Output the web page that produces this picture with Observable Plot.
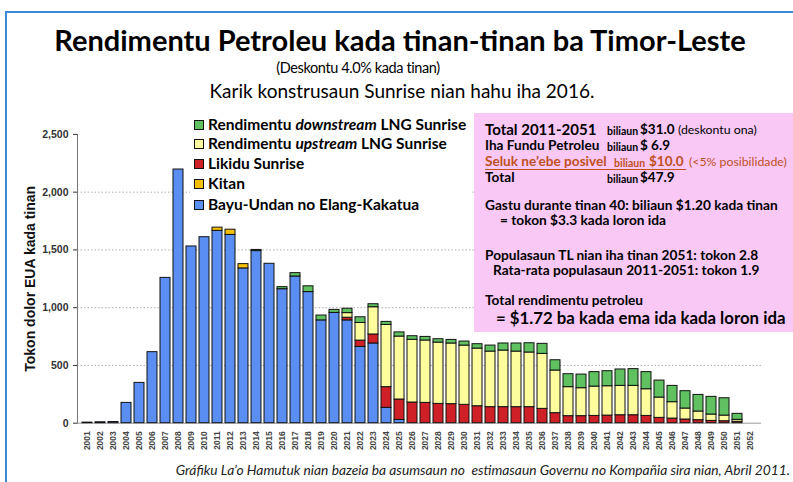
<!DOCTYPE html>
<html><head><meta charset="utf-8">
<script src="https://cdn.jsdelivr.net/npm/d3@7"></script>
<script src="https://cdn.jsdelivr.net/npm/@observablehq/plot@0.6"></script>
<style>
body{margin:0;background:#fff;}
#wrap{position:relative;width:793px;height:482px;overflow:hidden;font-family:Lato,sans-serif;color:#000;}
#frame{position:absolute;left:5px;top:11px;width:800px;height:500px;border:2px solid #3b88d8;box-sizing:border-box;}
.t{position:absolute;white-space:nowrap;line-height:1;}
#chart{position:absolute;left:0;top:100px;}
#legend{position:absolute;left:190px;top:114px;width:282px;height:101px;background:#fff;}
#box{position:absolute;left:474px;top:113px;width:330px;height:219px;background:#f9c8f5;}
.sw{position:absolute;width:8px;height:8px;border:1.5px solid #111;}
</style></head><body>
<div id="wrap">
  <div id="frame"></div>
  <div id="chart"></div>
  <div id="legend"></div>
  <div id="box"></div>
</div>
<script>
const years = [2001,2002,2003,2004,2005,2006,2007,2008,2009,2010,2011,2012,2013,2014,2015,2016,2017,2018,2019,2020,2021,2022,2023,2024,2025,2026,2027,2028,2029,2030,2031,2032,2033,2034,2035,2036,2037,2038,2039,2040,2041,2042,2043,2044,2045,2046,2047,2048,2049,2050,2051,2052];
const bayuUndan = [5,8,10,176,349,615,1258,2196,1530,1610,1665,1630,1340,1490,1380,1160,1270,1135,890,955,890,660,690,133,28,0,0,0,0,0,0,0,0,0,0,0,0,0,0,0,0,0,0,0,0,0,0,0,0,0,0,0];
const kitan = [0,0,0,0,0,0,0,0,0,0,28,45,37,0,0,0,0,0,0,0,0,0,0,0,0,0,0,0,0,0,0,0,0,0,0,0,0,0,0,0,0,0,0,0,0,0,0,0,0,0,0,0];
const likiduSunrise = [0,0,0,0,0,0,0,0,0,0,0,0,0,0,0,0,0,0,0,0,23,55,78,179,177,179,176,167,165,159,147,139,139,139,139,124,87,61,61,63,66,69,69,63,46,40,32,26,20,17,12,0];
const upstreamLNG = [0,0,0,0,0,0,0,0,0,0,0,0,0,0,0,0,0,0,0,0,40,153,236,539,545,543,540,531,525,513,499,481,490,481,473,476,369,251,242,254,254,254,254,231,176,142,95,75,55,49,17,0];
const downstreamLNG = [0,0,0,0,0,0,0,0,0,0,0,0,0,10,0,18,29,50,42,26,38,49,26,26,36,31,31,29,31,35,38,52,61,70,80,87,89,112,118,125,130,142,145,148,147,141,150,144,153,150,52,0];

const seriesNames = ["Bayu-Undan no Elang-Kakatua","Kitan","Likidu Sunrise","Rendimentu upstream LNG Sunrise","Rendimentu downstream LNG Sunrise"];
const seriesColors = ["#5b8ef2","#f5c000","#cf2027","#fdfd9e","#5fc160"];
const yTicks = [0,500,1000,1500,2000,2500];
const gridTicks = [500,1000,1500,2000];
const yLabel = "Tokon dolor EUA kada tinan";

const seriesValues = [bayuUndan,kitan,likiduSunrise,upstreamLNG,downstreamLNG];
const rows = [];
years.forEach((yr,i)=>seriesValues.forEach((arr,s)=>{ if(arr[i]>0) rows.push({year:yr, series:seriesNames[s], value:arr[i]}); }));

const chart = Plot.plot({
  width:793, height:355,
  marginTop:33.9, marginBottom:32.3, marginLeft:77, marginRight:32,
  style:{fontFamily:"'Liberation Sans',Arial,sans-serif", background:"transparent", overflow:"visible"},
  x:{type:"band", domain:years, paddingInner:0.22, paddingOuter:0.378, label:null},
  y:{domain:[0,2500], label:null},
  color:{domain:seriesNames, range:seriesColors},
  marks:[
    Plot.ruleY(gridTicks,{stroke:"#b0b0b0", strokeDasharray:"1.5,2"}),
    Plot.ruleY([0],{stroke:"#999"}),
    Plot.barY(rows,{x:"year", y:"value", fill:"series", stroke:"#111", strokeWidth:1, order:seriesNames}),
    Plot.frame({anchor:"left", stroke:"#777"}),
    Plot.axisY(yTicks,{tickFormat:d3.format(","), tickSize:4, tickPadding:5, fontWeight:"bold", fontSize:10.5, color:"#333", label:null}),
    Plot.axisX({tickFormat:d=>String(d), tickRotate:-90, tickSize:0, tickPadding:8, fontWeight:"bold", fontSize:8.5, color:"#444", label:null}),
    Plot.text([yLabel],{text:d=>d, frameAnchor:"left", dx:-47, rotate:-90, textAnchor:"middle", fontWeight:"bold", fontSize:14, fill:"#111"})
  ]
});
document.getElementById("chart").appendChild(chart);

const wrap = document.getElementById("wrap");
function txt(parent, html, x, base, size, o={}){
  const d = document.createElement("div");
  d.className = "t";
  d.innerHTML = html;
  d.style.fontSize = size+"px";
  d.style.top = (base - 0.887*size)+"px";
  if(o.center){ d.style.left = x+"px"; d.style.transform = "translateX(-50%)"; }
  else if(o.right){ d.style.right = x+"px"; }
  else d.style.left = x+"px";
  d.style.fontWeight = o.bold ? "bold" : "normal";
  if(o.italic) d.style.fontStyle = "italic";
  if(o.color) d.style.color = o.color;
  if(o.ls) d.style.letterSpacing = o.ls+"px";
  parent.appendChild(d);
  return d;
}
// titles
txt(wrap,"Rendimentu Petroleu kada tinan-tinan ba Timor-Leste",400,51,29,{center:true,bold:true});
txt(wrap,"(Deskontu 4.0% kada tinan)",358,74,14.5,{center:true,ls:-0.4});
txt(wrap,"Karik konstrusaun Sunrise nian hahu iha 2016.",402,98,19,{center:true});
txt(wrap,"Gráfiku La’o Hamutuk nian bazeia ba asumsaun no&nbsp; estimasaun Governu no Kompañia sira nian, Abril 2011.",3,475,13.8,{right:true,italic:true,color:"#222"});

// legend
const legend = document.getElementById("legend");
const legendOrder = [4,3,2,1,0];
const legendCenters = [11,30,50,70,91];
legendOrder.forEach((s,k)=>{
  const sw = document.createElement("div");
  sw.className="sw"; sw.style.background = seriesColors[s];
  sw.style.left = "4px"; sw.style.top = (legendCenters[k]-5.5)+"px";
  legend.appendChild(sw);
  const label = seriesNames[s].replace("downstream","<i>downstream</i>").replace("upstream","<i>upstream</i>");
  txt(legend,label,18,legendCenters[k]+5.5,15.5,{bold:true});
});

// pink box
const box = document.getElementById("box");
const L = 11;
const brown = "#c0501e";
const B = 133, D = 166;
txt(box,"Total 2011-2051",L,22,15,{bold:true});
txt(box,"biliaun",B,22,10.5,{bold:true});
txt(box,"$31.0",D,22,13.5,{bold:true});
txt(box,"(deskontu ona)",204,22,12.3,{});
txt(box,"Iha Fundu Petroleu",L,38,13.6,{bold:true});
txt(box,"biliaun",B,38,10.5,{bold:true});
txt(box,"$ 6.9",D,38,13.5,{bold:true});
txt(box,"Seluk ne’ebe posivel",L,54,13.6,{bold:true,color:brown});
txt(box,"biliaun",B+7,54,10.5,{bold:true,color:brown});
txt(box,"$10.0",D+9,54,13.5,{bold:true,color:brown});
txt(box,"(&lt;5% posibilidade)",215,54,12.3,{color:brown});
const ul = document.createElement("div");
ul.style.cssText = "position:absolute;left:"+L+"px;top:56px;width:201px;height:1.3px;background:"+brown;
box.appendChild(ul);
txt(box,"Total",L,70,13.6,{bold:true});
txt(box,"biliaun",B,70,10.5,{bold:true});
txt(box,"$47.9",D,70,13.5,{bold:true});
txt(box,"Gastu durante tinan 40: biliaun $1.20 kada tinan",L,97,13.7,{bold:true});
txt(box,"= tokon $3.3 kada loron ida",26,112.5,13.7,{bold:true});
txt(box,"Populasaun TL nian iha tinan 2051: tokon 2.8",L,147,13.7,{bold:true});
txt(box,"Rata-rata populasaun 2011-2051: tokon 1.9",19,162.5,13.7,{bold:true});
txt(box,"Total rendimentu petroleu",L,192.5,13.7,{bold:true});
txt(box,"= $1.72 ba kada ema ida kada loron ida",22,211.5,16.8,{bold:true});
</script>
</body></html>
